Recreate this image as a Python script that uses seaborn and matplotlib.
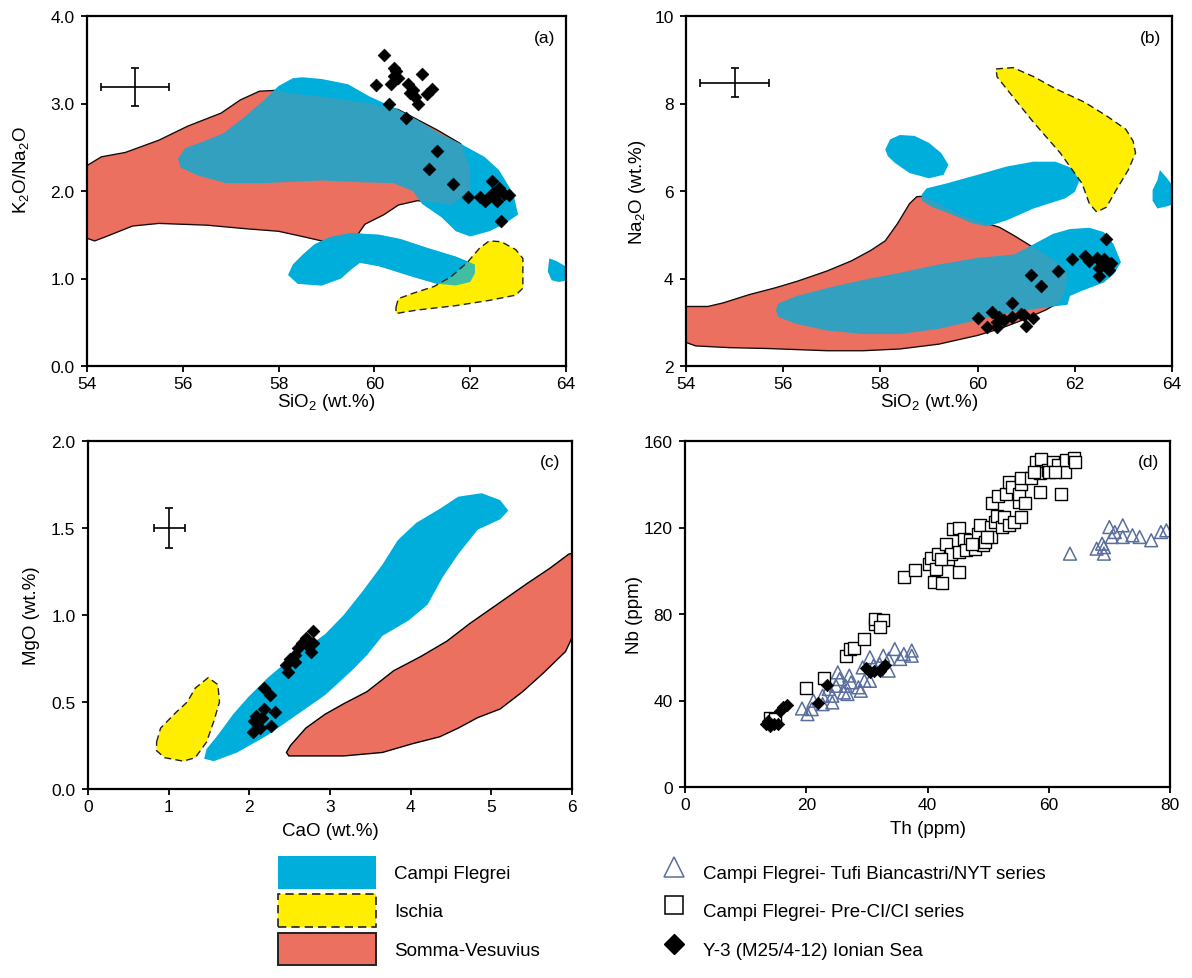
import matplotlib
matplotlib.use("Agg")
import matplotlib.pyplot as plt
import seaborn as sns
import numpy as np
import pandas as pd
from matplotlib.patches import Patch
from matplotlib.lines import Line2D
from matplotlib.ticker import FormatStrFormatter, MultipleLocator

# ---------------- data ----------------
# Panel (a): SiO2 vs K2O/Na2O
a_sv_x = [53.9, 54.0, 54.3, 54.8, 55.5, 56.1, 56.8, 57.2, 57.6, 57.95, 58.2, 58.9, 59.7, 60.5, 61.3, 61.8,
          62.0, 62.0, 61.6, 60.9, 60.5, 60.2, 59.8, 59.6, 59.3, 58.9, 58.5, 58.0, 57.3, 56.5, 55.5, 54.95,
          54.4, 54.16, 54.0, 53.9]
a_sv_y = [2.29, 2.29, 2.39, 2.44, 2.58, 2.74, 2.89, 3.04, 3.14, 3.15, 3.12, 3.08, 3.02, 2.93, 2.70, 2.54,
          2.27, 2.0, 1.84, 1.89, 1.84, 1.73, 1.62, 1.46, 1.41, 1.43, 1.48, 1.54, 1.57, 1.61, 1.63, 1.60,
          1.48, 1.43, 1.46, 1.46]
a_cf1_x = [58.0, 58.3, 58.5, 58.9, 59.45, 59.9, 60.5, 60.9, 61.35, 61.8, 62.3, 62.6, 62.9, 63.0, 62.7,
           62.4, 62.0, 61.7, 61.4, 61.0, 60.8, 60.4, 59.7, 58.9, 57.7, 56.9, 56.3, 55.95, 55.9, 56.05,
           56.4, 56.85, 57.25, 57.7]
a_cf1_y = [3.20, 3.29, 3.30, 3.28, 3.22, 3.08, 2.93, 2.81, 2.66, 2.54, 2.39, 2.24, 1.97, 1.73, 1.62,
           1.54, 1.48, 1.54, 1.70, 1.85, 2.0, 2.09, 2.10, 2.12, 2.09, 2.09, 2.18, 2.27, 2.37, 2.49,
           2.56, 2.66, 2.83, 3.04]
a_cf2_x = [58.2, 58.3, 58.5, 58.75, 59.05, 59.5, 60.1, 60.55, 61.1, 61.7, 62.1, 62.1, 62.0, 61.7, 61.3,
           60.8, 60.1, 59.7, 59.55, 59.3, 58.9, 58.4]
a_cf2_y = [1.04, 1.16, 1.27, 1.39, 1.47, 1.52, 1.50, 1.45, 1.35, 1.25, 1.16, 1.06, 0.96, 0.92, 0.94,
           1.02, 1.14, 1.18, 1.12, 1.0, 0.92, 0.94]
a_cf3_x = [63.65, 63.8, 64.05, 64.05, 63.85, 63.7, 63.62]
a_cf3_y = [1.23, 1.20, 1.12, 0.98, 0.96, 0.98, 1.08]
a_is_x = [60.45, 60.5, 60.8, 61.25, 61.6, 61.95, 62.2, 62.4, 62.65, 62.95, 63.1, 63.1, 62.95, 62.4,
          61.7, 60.9, 60.45]
a_is_y = [0.67, 0.77, 0.83, 0.91, 1.02, 1.19, 1.35, 1.43, 1.42, 1.33, 1.23, 0.89, 0.81, 0.75, 0.69,
          0.64, 0.60]
a_y3_x = [60.2, 60.03, 60.4, 60.45, 60.4, 60.35, 60.5, 60.7, 60.8, 60.75, 60.85, 60.9, 60.3, 60.65,
          61.0, 61.2, 61.1, 61.3, 61.15, 61.65, 61.95, 62.2, 62.3, 62.45, 62.6, 62.7, 62.55, 62.65,
          62.8, 62.45, 62.4, 62.6]
a_y3_y = [3.55, 3.21, 3.41, 3.37, 3.31, 3.22, 3.29, 3.22, 3.16, 3.12, 3.08, 3.0, 2.99, 2.84, 3.34,
          3.17, 3.11, 2.46, 2.25, 2.08, 1.93, 1.93, 1.89, 2.12, 2.04, 1.97, 1.89, 1.66, 1.96, 1.97,
          1.93, 2.0]
a_err = dict(x=55.0, y=3.19, xerr=0.71, yerr=0.22)

# Panel (b): SiO2 vs Na2O
b_sv_x = [53.9, 54.0, 54.45, 54.76, 55.3, 55.85, 56.3, 56.9, 57.4, 57.8, 58.1, 58.35, 58.6, 58.75, 58.9,
          59.2, 59.6, 60.0, 60.45, 60.75, 61.1, 61.4, 61.7, 61.85, 61.8, 61.7, 61.4, 60.9, 60.45, 60.0,
          59.2, 58.4, 57.65, 56.9, 55.7, 54.9, 54.2, 54.0, 53.9]
b_sv_y = [3.36, 3.36, 3.36, 3.44, 3.63, 3.79, 3.94, 4.17, 4.40, 4.64, 4.86, 5.25, 5.71, 5.87, 5.88,
          5.71, 5.48, 5.32, 5.17, 4.98, 4.74, 4.55, 4.32, 4.09, 3.70, 3.47, 3.28, 3.04, 2.85, 2.70,
          2.50, 2.39, 2.35, 2.35, 2.40, 2.42, 2.46, 2.54, 2.54]
b_cf1_x = [55.85, 55.9, 56.25, 56.9, 57.65, 58.4, 59.2, 60.0, 60.75, 61.15, 61.55, 61.9, 62.3, 62.6,
           62.8, 62.95, 62.8, 62.6, 62.15, 61.9, 61.85, 61.55, 60.75, 60.0, 59.2, 58.4, 57.65, 56.9,
           56.25, 55.9]
b_cf1_y = [3.28, 3.43, 3.59, 3.78, 3.97, 4.13, 4.32, 4.47, 4.55, 4.78, 5.02, 5.13, 5.16, 5.06, 4.78,
           4.37, 4.10, 3.91, 3.72, 3.60, 3.40, 3.36, 3.24, 3.05, 2.85, 2.73, 2.73, 2.81, 2.97, 3.12]
b_cf2_x = [58.85, 58.95, 59.35, 60.0, 60.6, 61.15, 61.6, 61.95, 62.1, 62.0, 61.8, 61.15, 60.6, 60.2,
           59.9, 59.5, 59.05, 58.85]
b_cf2_y = [5.92, 6.06, 6.17, 6.37, 6.56, 6.67, 6.67, 6.52, 6.25, 5.98, 5.83, 5.60, 5.33, 5.19, 5.26,
           5.45, 5.64, 5.78]
b_cf3_x = [58.1, 58.2, 58.4, 58.7, 59.0, 59.25, 59.4, 59.3, 59.0, 58.6, 58.3, 58.15]
b_cf3_y = [6.95, 7.18, 7.28, 7.26, 7.1, 6.87, 6.6, 6.37, 6.29, 6.41, 6.64, 6.8]
b_cf4_x = [63.75, 63.9, 64.05, 64.05, 63.9, 63.7, 63.6, 63.6, 63.7]
b_cf4_y = [6.48, 6.29, 6.06, 5.71, 5.65, 5.6, 5.78, 6.02, 6.25]
b_is_x = [60.38, 60.73, 61.16, 61.6, 62.2, 62.65, 63.05, 63.2, 63.25, 63.1, 62.85, 62.65, 62.45, 62.3,
          62.15, 61.7, 61.15, 60.65, 60.4]
b_is_y = [8.79, 8.82, 8.61, 8.34, 8.03, 7.72, 7.41, 7.14, 6.87, 6.48, 6.02, 5.63, 5.52, 5.71, 6.17,
          6.87, 7.57, 8.26, 8.61]
b_y3_x = [60.0, 60.2, 60.3, 60.4, 60.45, 60.4, 60.55, 60.7, 60.7, 60.9, 60.95, 61.0, 61.15, 61.1, 61.3,
          61.65, 61.95, 62.2, 62.3, 62.5, 62.45, 62.55, 62.65, 62.6, 62.7, 62.5, 62.7, 62.75]
b_y3_y = [3.10, 2.90, 3.24, 3.01, 3.13, 2.89, 3.05, 3.43, 3.13, 3.2, 3.17, 2.92, 3.1, 4.09, 3.82, 4.18,
          4.45, 4.51, 4.40, 4.05, 4.47, 4.36, 4.91, 4.44, 4.32, 4.25, 4.2, 4.36]
b_err = dict(x=55.0, y=8.48, xerr=0.71, yerr=0.33)

# Panel (c): CaO vs MgO
c_cf_x = [1.44, 1.47, 1.61, 1.8, 1.99, 2.23, 2.46, 2.7, 2.94, 3.17, 3.41, 3.65, 3.84, 4.07, 4.36, 4.59,
          4.88, 5.11, 5.21, 5.11, 4.83, 4.59, 4.4, 4.21, 3.98, 3.65, 3.46, 3.27, 2.94, 2.6, 2.23, 1.85,
          1.56]
c_cf_y = [0.174, 0.23, 0.31, 0.43, 0.53, 0.64, 0.73, 0.81, 0.89, 1.0, 1.14, 1.29, 1.43, 1.53, 1.61,
          1.68, 1.70, 1.66, 1.60, 1.55, 1.49, 1.35, 1.22, 1.06, 0.97, 0.88, 0.77, 0.68, 0.54, 0.43,
          0.31, 0.21, 0.16]
c_sv_x = [2.46, 2.51, 2.7, 2.94, 3.17, 3.46, 3.79, 4.12, 4.45, 4.73, 5.07, 5.44, 5.73, 5.96, 6.05,
          6.05, 6.0, 5.92, 5.63, 5.39, 5.11, 4.83, 4.59, 4.36, 4.02, 3.65, 3.17, 2.7, 2.49]
c_sv_y = [0.21, 0.25, 0.35, 0.43, 0.49, 0.56, 0.68, 0.76, 0.85, 0.95, 1.06, 1.18, 1.27, 1.35, 1.36,
          0.86, 0.87, 0.79, 0.66, 0.56, 0.46, 0.41, 0.35, 0.30, 0.26, 0.21, 0.19, 0.19, 0.19]
c_is_x = [0.85, 0.9, 1.09, 1.23, 1.33, 1.49, 1.61, 1.63, 1.56, 1.47, 1.33, 1.18, 0.95, 0.85]
c_is_y = [0.27, 0.35, 0.44, 0.50, 0.58, 0.64, 0.60, 0.50, 0.39, 0.27, 0.18, 0.16, 0.18, 0.22]
c_y3_x = [2.04, 2.06, 2.08, 2.18, 2.16, 2.13, 2.18, 2.25, 2.32, 2.27, 2.46, 2.51, 2.56, 2.48, 2.6,
          2.65, 2.7, 2.79, 2.77, 2.72, 2.56, 2.79]
c_y3_y = [0.33, 0.39, 0.42, 0.46, 0.41, 0.35, 0.58, 0.54, 0.44, 0.36, 0.71, 0.75, 0.77, 0.67, 0.81,
          0.84, 0.87, 0.91, 0.79, 0.83, 0.73, 0.84]
c_err = dict(x=1.01, y=1.50, xerr=0.19, yerr=0.115)

# Panel (d): Th vs Nb
d_ci_th = [19.9, 23.0, 26.6, 27.2, 27.9, 29.5, 31.4, 31.4, 32.7, 32.1, 14.0, 14.9, 36.1, 38.0, 40.2,
           40.5, 41.4, 41.7, 41.1, 42.4, 43.0, 43.3, 43.9, 44.2, 45.2, 45.2, 45.2, 46.1, 47.0, 46.4,
           47.9, 48.3, 48.6, 49.2, 49.5, 50.4, 50.4, 51.1, 51.4, 52.3, 52.6, 53.5, 54.2, 55.4, 50.7,
           51.7, 52.9, 53.5, 53.9, 55.1, 55.1, 55.4, 55.4, 56.0, 57.0, 57.9, 58.8, 58.5, 58.5, 59.8,
           60.7, 60.1, 61.6, 62.6, 62.0, 62.9, 64.1, 64.4, 57.6, 61.0, 49.8, 47.3, 42.3]
d_ci_nb = [45.7, 50.2, 60.4, 63.8, 64.3, 68.5, 75.4, 77.7, 77.3, 73.9, 31.8, 31.4, 97.1, 100.5, 102.9,
           105.9, 100.9, 107.9, 94.7, 94.3, 112.5, 105.6, 107.9, 119.5, 119.8, 108.7, 99.4, 114.8,
           114.1, 109.4, 110.2, 117.2, 121.0, 111.7, 113.3, 120.2, 115.6, 122.6, 125.2, 120.2, 124.9,
           121.0, 122.6, 124.9, 131.1, 134.6, 135.7, 141.1, 138.8, 131.8, 135.7, 140.3, 142.7, 131.1,
           142.7, 150.4, 151.9, 145.0, 136.2, 146.5, 150.4, 145.7, 148.8, 145.7, 135.7, 151.2, 152.2,
           150.4, 145.7, 145.7, 115.6, 112.5, 105.6]
d_tb_th = [63.5, 67.9, 69.1, 69.1, 68.8, 70.0, 70.9, 70.4, 72.2, 72.2, 73.8, 75.0, 76.9, 78.5, 79.4,
           19.3, 20.2, 20.9, 21.2, 22.7, 22.7, 24.3, 24.3, 24.9, 25.2, 25.5, 26.2, 26.5, 27.1, 27.4,
           28.6, 29.0, 29.3, 29.6, 30.5, 30.5, 31.1, 32.1, 32.7, 33.6, 33.6, 34.6, 35.5, 36.1, 37.4,
           37.4, 23.7, 26.8]
d_tb_nb = [107.9, 110.2, 110.9, 107.9, 112.5, 120.2, 117.9, 115.6, 115.6, 121.0, 116.4, 115.6, 114.1,
           117.9, 118.7, 36.3, 33.7, 36.0, 39.9, 38.3, 42.2, 39.1, 42.2, 46.8, 53.0, 49.9, 43.7, 46.8,
           51.5, 48.4, 46.1, 44.5, 55.3, 49.1, 49.1, 60.0, 56.1, 56.9, 60.7, 53.8, 59.2, 63.8, 59.2,
           61.5, 63.1, 60.7, 45.3, 43.0]
d_y3_th = [13.4, 14.0, 14.6, 15.3, 15.6, 16.8, 16.2, 22.0, 23.5, 29.9, 30.5, 31.1, 32.1, 32.7, 33.0, 13.7]
d_y3_nb = [29.1, 28.3, 29.1, 29.1, 35.2, 37.9, 36.8, 38.8, 47.3, 54.9, 53.0, 53.8, 53.8, 55.3, 56.6, 30.6]

legend_regions = ["Campi Flegrei", "Ischia", "Somma-Vesuvius"]
legend_points = ["Campi Flegrei- Tufi Biancastri/NYT series", "Campi Flegrei- Pre-CI/CI series",
                 "Y-3 (M25/4-12) Ionian Sea"]

# ---------------- style ----------------
BLUE = "#00AEDB"
RED = "#EC7060"
YELLOW = "#FFEE00"
TRI = "#5A6E9E"

sns.set_theme(style="ticks")
plt.rcParams["font.family"] = ["Liberation Sans", "DejaVu Sans"]
plt.rcParams["mathtext.fontset"] = "custom"
plt.rcParams["mathtext.rm"] = "Liberation Sans"
plt.rcParams["mathtext.it"] = "Liberation Sans:italic"
plt.rcParams["text.color"] = "black"
plt.rcParams["axes.labelcolor"] = "black"
plt.rcParams["xtick.color"] = "black"
plt.rcParams["ytick.color"] = "black"

fig = plt.figure(figsize=(11.92, 9.79), dpi=100)
W, H = 1192.0, 979.0


def make_ax(l, r, t, b):
    return fig.add_axes([l / W, 1 - b / H, (r - l) / W, (b - t) / H])


axa = make_ax(87, 566, 17, 367)
axb = make_ax(686, 1172, 17, 367)
axc = make_ax(88, 572, 442, 790)
axd = make_ax(685, 1170, 442, 788)


def region(ax, xs, ys, color, edge="none", ls="-", z=1, alpha=1.0, lw=1.0):
    ax.fill(xs, ys, facecolor=color, edgecolor=edge, linestyle=ls, linewidth=lw,
            zorder=z, alpha=alpha)


def dashed_edge(ax, xs, ys, z):
    ax.fill(xs, ys, facecolor="none", edgecolor="#222222", linestyle=(0, (5, 3)),
            linewidth=1.0, zorder=z)


def diamonds(ax, xs, ys, s=42):
    df = pd.DataFrame({"x": xs, "y": ys})
    sns.scatterplot(data=df, x="x", y="y", marker="D", s=s, color="black",
                    edgecolor="black", linewidth=0.5, ax=ax, zorder=8, legend=False)


def errcross(ax, e):
    ax.errorbar([e["x"]], [e["y"]], xerr=[e["xerr"]], yerr=[e["yerr"]], fmt="none",
                ecolor="black", elinewidth=1.2, capsize=3.0, capthick=1.2, zorder=9)


# (a)
region(axa, a_sv_x, a_sv_y, RED, edge="black", z=1)
for xs, ys in [(a_cf1_x, a_cf1_y), (a_cf2_x, a_cf2_y), (a_cf3_x, a_cf3_y)]:
    region(axa, xs, ys, BLUE, z=2)
region(axa, a_sv_x, a_sv_y, RED, z=3, alpha=0.22)
region(axa, a_is_x, a_is_y, YELLOW, z=3.5)
region(axa, a_cf2_x, a_cf2_y, BLUE, z=3.6, alpha=0.75)
dashed_edge(axa, a_is_x, a_is_y, 4)
diamonds(axa, a_y3_x, a_y3_y)
errcross(axa, a_err)

# (b)
region(axb, b_sv_x, b_sv_y, RED, edge="black", z=1)
for xs, ys in [(b_cf1_x, b_cf1_y), (b_cf2_x, b_cf2_y), (b_cf3_x, b_cf3_y), (b_cf4_x, b_cf4_y)]:
    region(axb, xs, ys, BLUE, z=2)
region(axb, b_sv_x, b_sv_y, RED, z=3, alpha=0.22)
region(axb, b_is_x, b_is_y, YELLOW, z=3.5)
dashed_edge(axb, b_is_x, b_is_y, 4)
diamonds(axb, b_y3_x, b_y3_y)
errcross(axb, b_err)

# (c)
region(axc, c_sv_x, c_sv_y, RED, edge="black", z=1)
region(axc, c_cf_x, c_cf_y, BLUE, z=2)
region(axc, c_is_x, c_is_y, YELLOW, z=3)
dashed_edge(axc, c_is_x, c_is_y, 4)
diamonds(axc, c_y3_x, c_y3_y)
errcross(axc, c_err)

# (d)
tb = pd.DataFrame({"Th": d_tb_th, "Nb": d_tb_nb})
ci = pd.DataFrame({"Th": d_ci_th, "Nb": d_ci_nb})
sns.scatterplot(data=tb, x="Th", y="Nb", marker="^", s=85, facecolors="none",
                edgecolor=TRI, linewidth=1.1, ax=axd, zorder=5, legend=False)
sns.scatterplot(data=ci, x="Th", y="Nb", marker="s", s=80, facecolors="white",
                edgecolor="black", linewidth=1.0, ax=axd, zorder=6, legend=False)
diamonds(axd, d_y3_th, d_y3_nb, s=40)

# axes formatting: (ax, xlim, ylim, xstep, ystep, xfmt, yfmt, xlabel, ylabel, tag,
#                   ylabel x-pos, ylabel y-pos, xlabel y-pos) in axes fractions
settings = [
    (axa, (54, 64), (0, 4), 2, 1.0, "%d", "%.1f", r"SiO$_\mathregular{2}$ (wt.%)",
     r"K$_\mathregular{2}$O/Na$_\mathregular{2}$O", "(a)", -0.117, 0.563, -0.072),
    (axb, (54, 64), (2, 10), 2, 2, "%d", "%d", r"SiO$_\mathregular{2}$ (wt.%)",
     r"Na$_\mathregular{2}$O (wt.%)", "(b)", -0.078, 0.5, -0.072),
    (axc, (0, 6), (0, 2), 1, 0.5, "%d", "%.1f", "CaO (wt.%)", "MgO (wt.%)", "(c)",
     -0.100, 0.5, -0.094),
    (axd, (0, 80), (0, 160), 20, 40, "%d", "%d", "Th (ppm)", "Nb (ppm)", "(d)",
     -0.087, 0.5, -0.094),
]
for ax, xl, yl, xs, ys, xf, yf, xlab, ylab, tag, ylx, yly, xly in settings:
    ax.set_xlim(*xl)
    ax.set_ylim(*yl)
    ax.xaxis.set_major_locator(MultipleLocator(xs))
    ax.yaxis.set_major_locator(MultipleLocator(ys))
    ax.xaxis.set_major_formatter(FormatStrFormatter(xf))
    ax.yaxis.set_major_formatter(FormatStrFormatter(yf))
    ax.set_xlabel(xlab, fontsize=13.5, color="black")
    ax.set_ylabel(ylab, fontsize=13.5, color="black")
    ax.yaxis.set_label_coords(ylx, yly)
    ax.xaxis.set_label_coords(0.5, xly)
    ax.tick_params(axis="both", direction="out", length=4, width=1.3, labelsize=12.5,
                   colors="black")
    ax.tick_params(axis="x", pad=3)
    ax.tick_params(axis="y", pad=5)
    for sp in ax.spines.values():
        sp.set_linewidth(1.6)
        sp.set_color("black")
        sp.set_zorder(20)
    ax.set_facecolor("white")
    ax.text(0.955, 0.94, tag, transform=ax.transAxes, ha="center", va="center",
            fontsize=12.5, color="black")

# legends
h_regions = [
    Patch(facecolor=BLUE, edgecolor="none"),
    Patch(facecolor=YELLOW, edgecolor="#222222", linestyle=(0, (5, 3)), linewidth=1.2),
    Patch(facecolor=RED, edgecolor="#222222", linewidth=1.4),
]
leg1 = fig.legend(h_regions, legend_regions, loc="upper left",
                  bbox_to_anchor=(278 / W, 1 - 857 / H), frameon=False, fontsize=13.5,
                  handlelength=5.2, handleheight=2.3, labelspacing=0.3, handletextpad=1.0,
                  borderpad=0, borderaxespad=0, labelcolor="black")
h_points = [
    Line2D([], [], ls="none", marker="^", ms=14, mfc="none", mec=TRI, mew=1.1),
    Line2D([], [], ls="none", marker="s", ms=13, mfc="none", mec="black", mew=1.1),
    Line2D([], [], ls="none", marker="D", ms=10, mfc="black", mec="black"),
]
leg2 = fig.legend(h_points, legend_points, loc="upper left",
                  bbox_to_anchor=(662 / W, 1 - 857 / H), frameon=False, fontsize=13.5,
                  handlelength=1.3, handleheight=2.3, labelspacing=0.3, handletextpad=0.9,
                  borderpad=0, borderaxespad=0, labelcolor="black")

fig.savefig("out.png", dpi=100, facecolor="white")
